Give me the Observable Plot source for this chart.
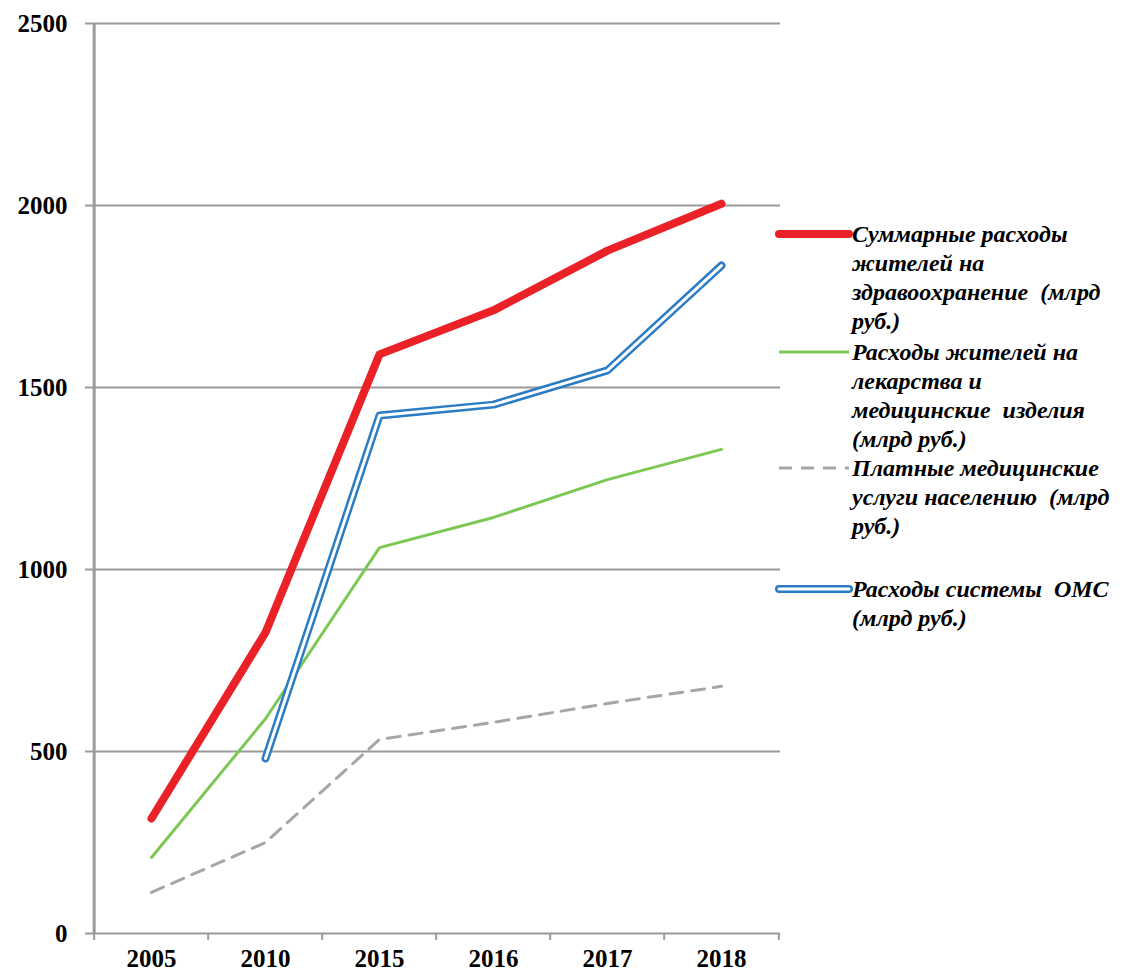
<!DOCTYPE html>
<html>
<head>
<meta charset="utf-8">
<script src="https://cdn.jsdelivr.net/npm/d3@7"></script>
<script src="https://cdn.jsdelivr.net/npm/@observablehq/plot@0.6"></script>
<style>
  html, body { margin: 0; padding: 0; background: #fff; }
  #wrap { position: relative; width: 1135px; height: 974px; }
  #legend { position: absolute; left: 0; top: 0; pointer-events: none; }
</style>
</head>
<body>
<div id="wrap"></div>
<script>
const years = ["2005", "2010", "2015", "2016", "2017", "2018"];
const totalSpending = [316, 827, 1591, 1712, 1876, 2005];
const drugsSpending = [209, 590, 1060, 1143, 1247, 1330];
const paidServices = [113, 250, 533, 580, 632, 679];
const omsSpending = [null, 481, 1423, 1453, 1547, 1835];
const yTicks = [0, 500, 1000, 1500, 2000, 2500];

const seriesLabels = [
  ["Суммарные расходы", "жителей на", "здравоохранение  (млрд", "руб.)"],
  ["Расходы жителей на", "лекарства и", "медицинские  изделия", "(млрд руб.)"],
  ["Платные медицинские", "услуги населению  (млрд", "руб.)"],
  ["Расходы системы  ОМС", "(млрд руб.)"]
];

const rows = (vals) => years.map((y, i) => ({year: y, value: vals[i]})).filter(d => d.value != null);

const W = 1135, H = 974;
const mL = 92, mR = 355, mT = 23, mB = 41;
const step = (W - mL - mR) / years.length;
const grid = "#9a9a9a";
const serif = "\"Liberation Serif\", \"DejaVu Serif\", \"Times New Roman\", serif";

const plot = Plot.plot({
  width: W, height: H,
  marginLeft: mL, marginRight: mR, marginTop: mT, marginBottom: mB,
  style: {fontFamily: serif, fontSize: "25px", fontWeight: "bold", color: "#000", background: "#fff"},
  x: {type: "point", domain: years, padding: 0.5, label: null},
  y: {domain: [0, 2500], label: null},
  marks: [
    Plot.ruleY(yTicks, {stroke: grid, strokeWidth: 2}),
    Plot.ruleX([years[0]], {dx: -step / 2, y1: 0, y2: 2500, stroke: grid, strokeWidth: 3}),
    Plot.ruleX(years, {dx: -step / 2, y1: 0, y2: -19, stroke: grid, strokeWidth: 2}),
    Plot.ruleX([years[years.length - 1]], {dx: step / 2, y1: 0, y2: -19, stroke: grid, strokeWidth: 2}),
    Plot.axisY({ticks: yTicks, tickSize: 7, tickPadding: 18, tickFormat: d => String(d), stroke: grid, strokeWidth: 2}),
    Plot.axisX({tickSize: 0, tickPadding: 16}),
    Plot.line(rows(paidServices), {x: "year", y: "value", stroke: "#a6a6a6", strokeWidth: 3, strokeDasharray: "13,9"}),
    Plot.line(rows(drugsSpending), {x: "year", y: "value", stroke: "#7dc855", strokeWidth: 3}),
    Plot.line(rows(omsSpending), {x: "year", y: "value", stroke: "#2b7cc4", strokeWidth: 8, strokeLinecap: "round", strokeLinejoin: "round"}),
    Plot.line(rows(omsSpending), {x: "year", y: "value", stroke: "#ffffff", strokeWidth: 3, strokeLinecap: "round", strokeLinejoin: "round"}),
    Plot.line(rows(totalSpending), {x: "year", y: "value", stroke: "#ea2227", strokeWidth: 8, strokeLinecap: "round", strokeLinejoin: "round"})
  ]
});
document.getElementById("wrap").appendChild(plot);

// Legend overlay
const ns = "http://www.w3.org/2000/svg";
const lg = document.createElementNS(ns, "svg");
lg.setAttribute("id", "legend");
lg.setAttribute("width", W);
lg.setAttribute("height", H);
const items = [
  {y: 234, styles: [{stroke: "#ea2227", w: 8, cap: "round"}]},
  {y: 352, styles: [{stroke: "#7dc855", w: 3}]},
  {y: 468, styles: [{stroke: "#a6a6a6", w: 3, dash: "13,9"}]},
  {y: 589, styles: [{stroke: "#2b7cc4", w: 8, cap: "round"}, {stroke: "#fff", w: 3, cap: "round"}]}
];
const lineH = 29;
items.forEach((it, i) => {
  it.styles.forEach(s => {
    const l = document.createElementNS(ns, "line");
    l.setAttribute("x1", 779); l.setAttribute("x2", 849);
    l.setAttribute("y1", it.y); l.setAttribute("y2", it.y);
    l.setAttribute("stroke", s.stroke); l.setAttribute("stroke-width", s.w);
    if (s.cap) l.setAttribute("stroke-linecap", s.cap);
    if (s.dash) l.setAttribute("stroke-dasharray", s.dash);
    lg.appendChild(l);
  });
  seriesLabels[i].forEach((txt, j) => {
    const t = document.createElementNS(ns, "text");
    t.setAttribute("x", 852);
    t.setAttribute("y", it.y + 8 + j * lineH);
    t.setAttribute("font-family", serif);
    t.setAttribute("font-size", "24px");
    t.setAttribute("font-weight", "bold");
    t.setAttribute("font-style", "italic");
    t.style.whiteSpace = "pre";
    t.textContent = txt;
    lg.appendChild(t);
  });
});
document.getElementById("wrap").appendChild(lg);
</script>
</body>
</html>
